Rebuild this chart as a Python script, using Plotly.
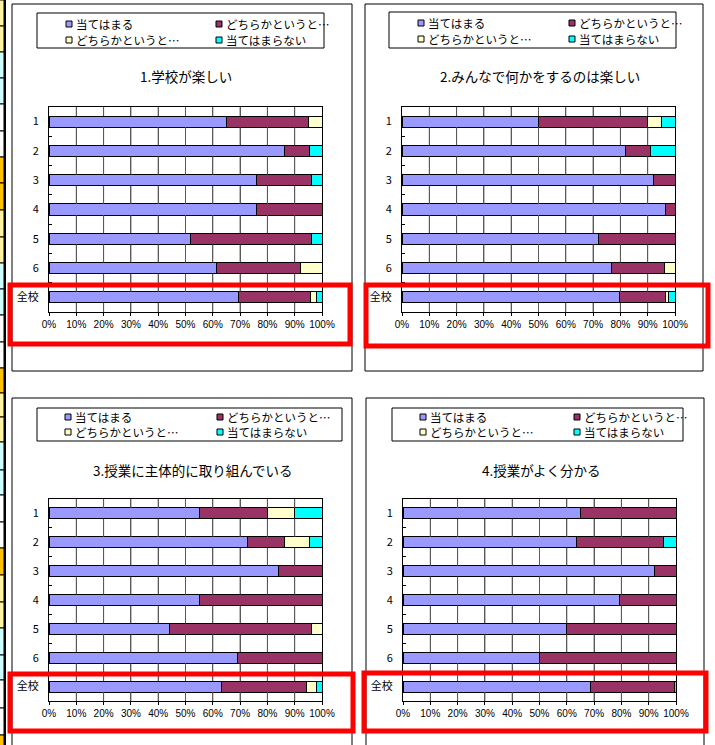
import plotly.graph_objects as go

W, H = 715, 745

categories = ['1', '2', '3', '4', '5', '6', '全校']
series_names = ['当てはまる', 'どちらかというと…', 'どちらかというと…', '当てはまらない']
series_colors = ['#9999FF', '#993366', '#FFFFCC', '#00FFFF']
x_tick_vals = [0, 10, 20, 30, 40, 50, 60, 70, 80, 90, 100]
x_tick_text = ['0%', '10%', '20%', '30%', '40%', '50%', '60%', '70%', '80%', '90%', '100%']
titles = ['1.学校が楽しい', '2.みんなで何かをするのは楽しい',
          '3.授業に主体的に取り組んでいる', '4.授業がよく分かる']

# Q1 (percent)
q1_atehamaru = [65, 86.4, 76, 76, 52, 61.5, 69.4]
q1_dochira_a = [30, 9.1, 20, 24, 44, 30.8, 26.5]
q1_dochira_b = [5, 0, 0, 0, 0, 7.7, 2.0]
q1_atehamaranai = [0, 4.5, 4, 0, 4, 0, 2.1]
# Q2
q2_atehamaru = [50, 81.8, 92, 96.5, 72, 76.9, 79.5]
q2_dochira_a = [40, 9.1, 8, 3.5, 28, 19.2, 17.1]
q2_dochira_b = [5, 0, 0, 0, 0, 3.9, 1.0]
q2_atehamaranai = [5, 9.1, 0, 0, 0, 0, 2.4]
# Q3
q3_atehamaru = [55, 72.7, 84, 55, 44, 69.2, 63.2]
q3_dochira_a = [25, 13.6, 16, 45, 52, 30.8, 31.3]
q3_dochira_b = [10, 9.1, 0, 0, 4, 0, 3.4]
q3_atehamaranai = [10, 4.6, 0, 0, 0, 0, 2.1]
# Q4
q4_atehamaru = [65, 63.6, 92.2, 79.4, 60, 50, 68.7]
q4_dochira_a = [35, 31.8, 7.8, 20.6, 40, 50, 30.7]
q4_dochira_b = [0, 0, 0, 0, 0, 0, 0]
q4_atehamaranai = [0, 4.6, 0, 0, 0, 0, 0.6]

panels_data = [
    [q1_atehamaru, q1_dochira_a, q1_dochira_b, q1_atehamaranai],
    [q2_atehamaru, q2_dochira_a, q2_dochira_b, q2_atehamaranai],
    [q3_atehamaru, q3_dochira_a, q3_dochira_b, q3_atehamaranai],
    [q4_atehamaru, q4_dochira_a, q4_dochira_b, q4_atehamaranai],
]

FONT = 'Noto Sans CJK JP'
GRID = '#5a5a5a'
BARGAP = 0.62
X_RANGE = (0, 100)


def px(x):
    return x / W


def py(y):
    return 1 - y / H


# layout geometry (pixels)
plot_boxes = [(49, 322, 107, 312), (402, 675, 107, 312),
              (49, 322, 499, 701), (403, 676, 499, 701)]
panel_frames = [(12, 352, 4, 371), (365, 703, 4, 371),
                (12, 352, 398, 760), (366, 704, 398, 760)]
legend_boxes = [(37, 324, 13, 48), (389, 676, 12, 48),
                (37, 342, 408, 441), (392, 683, 408, 441)]
legend_rows = [(24, 40), (23, 39), (417, 432), (417, 432)]
legend_cols = [(69, 219), (421, 572), (68, 220), (423, 577)]
title_pos = [(186, 76), (540, 76), (193, 470), (541, 470)]
red_boxes = [(10, 350, 285, 344), (366, 708, 285, 346),
             (10, 353, 674, 731), (364, 706, 673, 731)]

# gaps between the category bars, as fractions of the y-axis domain
n_cat = len(categories)
half_bar = (1 - BARGAP) / 2 / n_cat
centers = [1 - (k + 0.5) / n_cat for k in range(n_cat)]
gap_spans = [(centers[0] + half_bar, 1.0)]
for k in range(n_cat - 1):
    gap_spans.append((centers[k + 1] + half_bar, centers[k] - half_bar))
gap_spans.append((0.0, centers[-1] - half_bar))

fig = go.Figure()
shapes = []
annotations = []

for i, data in enumerate(panels_data):
    n = i + 1
    xa = 'x' if n == 1 else f'x{n}'
    ya = 'y' if n == 1 else f'y{n}'
    for vals, name, col in zip(data, series_names, series_colors):
        fig.add_trace(go.Bar(
            x=vals, y=categories, orientation='h', name=name,
            marker=dict(color=col, line=dict(color='black', width=1)),
            xaxis=xa, yaxis=ya, showlegend=False,
            hovertemplate='%{y}: %{x:.1f}%<extra>' + name + '</extra>'))
    x0, x1, y0, y1 = plot_boxes[i]
    xdom = [px(x0), px(x1)]
    ydom = [py(y1), py(y0)]
    xkey = 'xaxis' if n == 1 else f'xaxis{n}'
    ykey = 'yaxis' if n == 1 else f'yaxis{n}'
    fig.update_layout({
        xkey: dict(domain=xdom, anchor=ya, range=list(X_RANGE),
                   type='linear', tickmode='array', automargin=False,
                   tickvals=x_tick_vals, ticktext=x_tick_text, showgrid=True,
                   gridcolor=GRID, gridwidth=1, zeroline=False,
                   showline=True, linecolor='black', linewidth=1, mirror=True,
                   ticks='outside', ticklen=3, tickcolor='black',
                   tickfont=dict(family='Liberation Sans', size=10, color='black'),
                   fixedrange=True),
        ykey: dict(domain=ydom, anchor=xa, type='category',
                   categoryorder='array', categoryarray=categories, automargin=False,
                   autorange='reversed', showgrid=False, zeroline=False,
                   showline=True, linecolor='black', linewidth=1, mirror=True,
                   ticks='inside', ticklen=3, tickcolor='black',
                   tickson='boundaries', ticklabelstandoff=7,
                   tickfont=dict(family=FONT, size=11, color='black'),
                   fixedrange=True),
    })

    # vertical gridlines: axis value -> paper position via the axis domain/range,
    # drawn only in the gaps between bars
    for v in x_tick_vals[1:-1]:
        gx = xdom[0] + (v - X_RANGE[0]) / (X_RANGE[1] - X_RANGE[0]) * (xdom[1] - xdom[0])
        for g0, g1 in gap_spans:
            shapes.append(dict(type='line', xref='paper', yref='paper',
                               x0=gx, x1=gx,
                               y0=ydom[0] + g0 * (ydom[1] - ydom[0]),
                               y1=ydom[0] + g1 * (ydom[1] - ydom[0]),
                               line=dict(color=GRID, width=1)))

    # panel frame
    fx0, fx1, fy0, fy1 = panel_frames[i]
    shapes.append(dict(type='rect', xref='paper', yref='paper',
                       x0=px(fx0), x1=px(fx1), y0=py(fy1), y1=py(fy0),
                       fillcolor='rgba(0,0,0,0)', line=dict(color='black', width=1)))
    # legend box
    lx0, lx1, ly0, ly1 = legend_boxes[i]
    shapes.append(dict(type='rect', xref='paper', yref='paper',
                       x0=px(lx0), x1=px(lx1), y0=py(ly1), y1=py(ly0),
                       fillcolor='rgba(0,0,0,0)', line=dict(color='black', width=1)))
    rows = legend_rows[i]
    cols = legend_cols[i]
    for k, (name, col) in enumerate(zip(series_names, series_colors)):
        cy = rows[k // 2]
        cx = cols[k % 2]
        shapes.append(dict(type='rect', xref='paper', yref='paper',
                           x0=px(cx - 3), x1=px(cx + 3), y0=py(cy + 3), y1=py(cy - 3),
                           fillcolor=col, line=dict(color='black', width=1)))
        annotations.append(dict(text=name, xref='paper', yref='paper',
                                x=px(cx + 5), y=py(cy), xanchor='left', yanchor='middle',
                                showarrow=False,
                                font=dict(family=FONT, size=11.5, color='black')))
    # title
    tx, ty = title_pos[i]
    annotations.append(dict(text=titles[i], xref='paper', yref='paper',
                            x=px(tx), y=py(ty), xanchor='center', yanchor='middle',
                            showarrow=False,
                            font=dict(family=FONT, size=13.5, color='black')))
    # red highlight
    rx0, rx1, ry0, ry1 = red_boxes[i]
    shapes.append(dict(type='rect', xref='paper', yref='paper',
                       x0=px(rx0), x1=px(rx1), y0=py(ry1), y1=py(ry0),
                       fillcolor='rgba(0,0,0,0)',
                       line=dict(color='#FF0000', width=5), layer='above'))

# left strip of spreadsheet cells
strip_edges = [0, 26, 52, 78, 104, 131, 157, 183, 210, 237, 263, 289, 315, 342,
               368, 393, 417, 442, 470, 495, 522, 548, 575, 602, 628, 655, 680,
               708, 735, 760]
strip_colors = ['#FFF3A0', '#FFF3A0', '#CCFFFF', '#CCFFFF', '#FFFFFF', '#FFFFFF',
                '#FFC000', '#FFC000', '#FFF3A0', '#FFF3A0', '#CCFFFF', '#CCFFFF',
                '#FFFFFF', '#FFFFFF', '#FFC000', '#FFF3A0', '#FFF3A0', '#CCFFFF',
                '#CCFFFF', '#FFFFFF', '#FFFFFF', '#FFC000', '#FFF3A0', '#FFF3A0',
                '#CCFFFF', '#CCFFFF', '#FFFFFF', '#FFFFFF', '#FFC000']
for j, c in enumerate(strip_colors):
    shapes.append(dict(type='rect', xref='paper', yref='paper',
                       x0=px(-2), x1=px(4), y0=py(strip_edges[j + 1]), y1=py(strip_edges[j]),
                       fillcolor=c, line=dict(color='black', width=1)))
shapes.append(dict(type='line', xref='paper', yref='paper',
                   x0=px(5), x1=px(5), y0=0, y1=1,
                   line=dict(color='black', width=2)))

fig.update_layout(
    template='none',
    width=W, height=H, autosize=False, margin=dict(l=0, r=0, t=0, b=0, pad=0),
    paper_bgcolor='white', plot_bgcolor='rgba(0,0,0,0)',
    barmode='stack', bargap=BARGAP,
    showlegend=False, shapes=shapes, annotations=annotations,
    font=dict(family=FONT, color='black'),
)

fig.write_html(
    'out.html',
    config={'responsive': False, 'displayModeBar': False},
    post_script="document.body.style.margin='0';document.body.style.padding='0';"
                "document.body.style.overflow='hidden';",
)
